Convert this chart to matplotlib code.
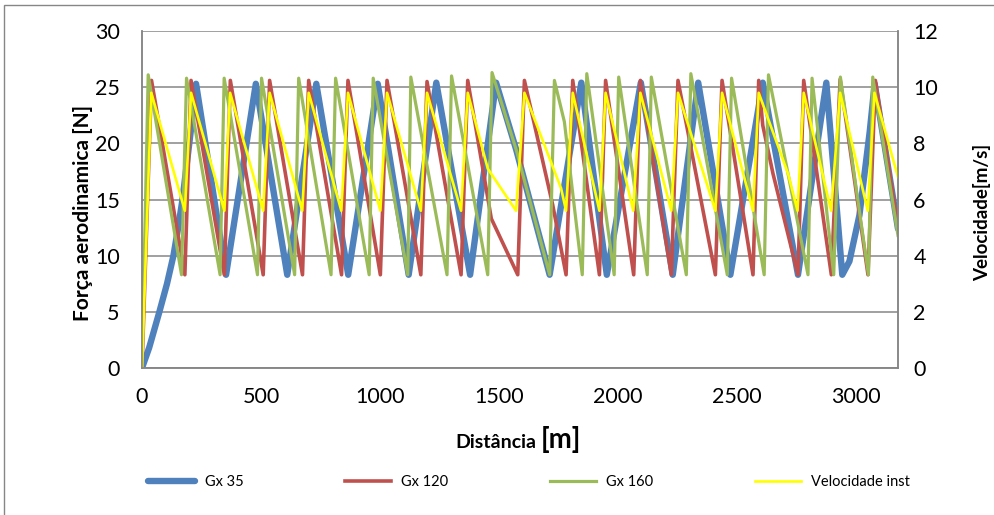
import matplotlib
matplotlib.use("Agg")
import matplotlib.pyplot as plt
from matplotlib.patches import Rectangle

plt.rcParams["font.family"] = ["Lato", "DejaVu Sans"]

# Distance [m] and aerodynamic force [N] for each gear, plus instantaneous speed [m/s]
dist_gx35 = [0, 30, 73, 105, 132, 152, 170, 190, 210, 227, 353, 478, 610, 732, 866, 990, 1120,
             1236, 1378, 1487, 1572, 1712, 1845, 1952, 2095, 2229, 2336, 2471, 2607, 2755,
             2874, 2941, 2971, 3013, 3056, 3077, 3175]
forca_gx35 = [0, 1.8, 5.0, 7.5, 10.0, 12.5, 15.0, 18.5, 22.0, 25.3, 8.3, 25.3, 8.3, 25.3, 8.3,
              25.3, 8.3, 25.4, 8.3, 25.4, 19.4, 8.3, 25.4, 8.3, 25.4, 8.3, 25.4, 8.3, 25.4,
              8.3, 25.4, 8.3, 9.5, 13.6, 21.0, 25.3, 12.4]

dist_gx120 = [0, 40, 180, 206, 346, 371, 509, 536, 674, 700, 838, 865, 1001, 1029, 1171, 1197,
              1340, 1368, 1467, 1578, 1606, 1725, 1781, 1809, 1921, 1947, 2065, 2093, 2223,
              2251, 2408, 2436, 2566, 2590, 2607, 2650, 2755, 2779, 2895, 2932, 3049, 3080, 3175]
forca_gx120 = [0, 25.6, 8.3, 25.6, 8.3, 25.6, 8.3, 25.6, 8.3, 25.6, 8.3, 25.6, 8.3, 25.6, 8.3,
               25.5, 8.3, 25.6, 13.3, 8.3, 25.6, 14.5, 8.3, 25.6, 8.3, 25.6, 8.3, 25.6, 8.3,
               25.6, 8.3, 25.6, 8.3, 25.6, 21.6, 17.3, 8.3, 25.6, 8.3, 25.7, 8.3, 25.6, 12.5]

dist_gx160 = [0, 26, 166, 187, 328, 345, 485, 502, 641, 658, 794, 813, 954, 971, 1116, 1129,
              1281, 1300, 1452, 1470, 1572, 1712, 1732, 1774, 1849, 1868, 1983, 2002, 2122,
              2139, 2286, 2305, 2458, 2476, 2613, 2631, 2797, 2814, 2905, 2933, 3051, 3069, 3175]
forca_gx160 = [0, 26.1, 8.3, 25.8, 8.3, 25.8, 8.3, 25.8, 8.3, 25.8, 8.3, 25.8, 8.3, 25.8, 8.3,
               25.9, 8.3, 26.0, 8.3, 26.3, 19.4, 8.3, 25.6, 21.9, 8.3, 26.2, 8.3, 25.9, 8.3,
               25.9, 8.3, 26.2, 8.3, 25.8, 8.3, 26.1, 8.3, 25.8, 8.3, 25.9, 8.3, 25.9, 11.8]

dist_vel = [0, 39, 180, 206, 346, 370, 509, 536, 673, 700, 837, 865, 1001, 1029, 1171, 1197,
            1340, 1368, 1452, 1571, 1606, 1760, 1781, 1809, 1921, 1947, 2063, 2093, 2223,
            2251, 2408, 2436, 2566, 2590, 2714, 2753, 2779, 2894, 2932, 3048, 3076, 3175]
velocidade = [0, 9.8, 5.6, 9.8, 5.6, 9.8, 5.6, 9.8, 5.6, 9.8, 5.6, 9.8, 5.6, 9.8, 5.6, 9.8,
              5.6, 9.8, 7.1, 5.6, 9.8, 6.4, 5.6, 9.8, 5.6, 9.8, 5.6, 9.8, 5.6, 9.8, 5.6, 9.8,
              5.6, 9.8, 6.9, 5.6, 9.8, 5.6, 9.8, 5.6, 9.8, 6.8]

x_ticks = [0, 500, 1000, 1500, 2000, 2500, 3000]
y_ticks = [0, 5, 10, 15, 20, 25, 30]
v_ticks = [0, 2, 4, 6, 8, 10, 12]

series_labels = ["Gx 35", "Gx 120", "Gx 160", "Velocidade inst"]
colors = ["#4F81BD", "#C0504D", "#9BBB59", "#FFFF00"]
GRAY = "#868686"

W, H = 995, 515
fig = plt.figure(figsize=(W / 100, H / 100), dpi=100)

# outer chart-area border
fig.add_artist(Rectangle((4.5 / W, -0.05), 1.2, 1.05 - 4.5 / H, transform=fig.transFigure,
                         fill=False, edgecolor=GRAY, linewidth=1.0))

ax = fig.add_axes([142 / W, 1 - 368 / H, (898 - 142) / W, (368 - 31) / H])
l1, = ax.plot(dist_gx35, forca_gx35, color=colors[0], lw=4.6, solid_joinstyle="round",
              solid_capstyle="round")
l2, = ax.plot(dist_gx120, forca_gx120, color=colors[1], lw=2.6, solid_joinstyle="round")
l3, = ax.plot(dist_gx160, forca_gx160, color=colors[2], lw=2.3, solid_joinstyle="round")

ax.set_xlim(0, 3175)
ax.set_ylim(0, 30)
ax.set_xticks(x_ticks)
ax.set_yticks(y_ticks)
ax.yaxis.grid(True, color=GRAY, linewidth=1.1)
ax.set_axisbelow(True)
for s in ("left", "bottom", "right"):
    ax.spines[s].set_color(GRAY)
    ax.spines[s].set_linewidth(1.1)
ax.spines["top"].set_visible(False)
ax.tick_params(axis="both", length=0, labelsize=15.5)
ax.tick_params(axis="y", pad=16)
ax.tick_params(axis="x", pad=14)
ax.set_ylabel("Força aerodinamica [N]", fontsize=15, fontweight="bold")
ax.yaxis.set_label_coords(-0.065, 0.46)

ax2 = ax.twinx()
l4, = ax2.plot(dist_vel, velocidade, color=colors[3], lw=1.9, solid_joinstyle="round")
ax2.set_ylim(0, 12)
ax2.set_yticks(v_ticks)
for s in ("left", "bottom", "right"):
    ax2.spines[s].set_color(GRAY)
    ax2.spines[s].set_linewidth(1.1)
ax2.spines["top"].set_visible(False)
ax2.tick_params(axis="y", length=0, labelsize=15.5, pad=11)
ax2.set_ylabel("Velocidade[m/s]", fontsize=13.5, fontweight="bold")
ax2.yaxis.set_label_coords(1.1, 0.463)

# axis title with a larger unit bracket
fig.text(536 / W, 1 - 448 / H, "Distância", fontsize=14, fontweight="bold",
         ha="right", va="baseline")
fig.text(541 / W, 1 - 448 / H, "[m]", fontsize=20, fontweight="bold",
         ha="left", va="baseline")

fig.legend([l1, l2, l3, l4], series_labels, loc="center left", ncol=4,
           bbox_to_anchor=(148 / W, 1 - 482 / H, 762 / W, 0), mode="expand",
           frameon=False, fontsize=10.5, handlelength=3.2, handletextpad=0.68,
           borderaxespad=0, borderpad=0)

fig.savefig("out.png", dpi=100)
